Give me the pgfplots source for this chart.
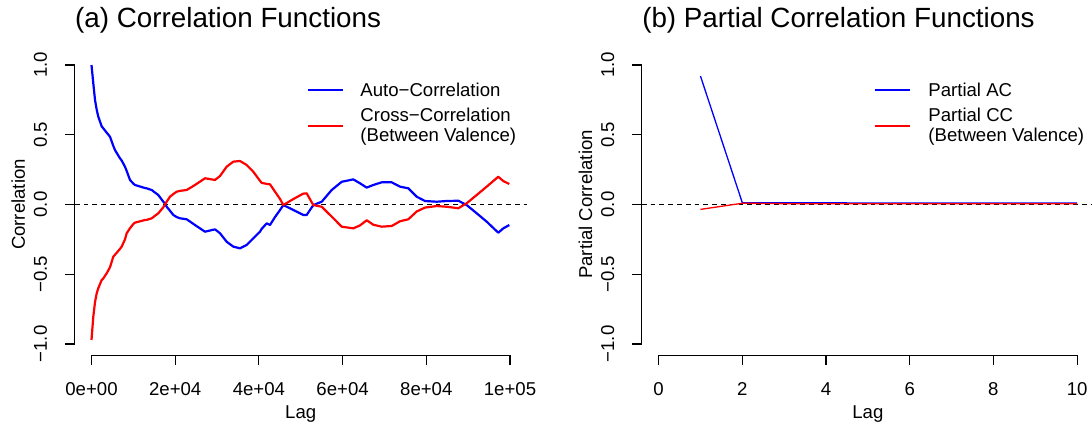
\documentclass[border=0pt]{standalone}
\usepackage{fontspec}
\setmainfont{Liberation Sans}
\usepackage{pgfplots}
\pgfplotsset{compat=1.18}

% Sample auto- and cross-correlation (between valence) by lag
\pgfplotstableread{
lag    ac      cc
0      1.000   -0.971
430    0.869   -0.804
840    0.749   -0.700
1240   0.680   -0.637
1620   0.630   -0.600
2440   0.560   -0.541
2820   0.546   -0.530
3630   0.515   -0.493
4420   0.486   -0.450
5210   0.420   -0.374
5620   0.390   -0.360
6810   0.331   -0.318
7220   0.315   -0.302
8000   0.271   -0.250
8410   0.240   -0.206
9200   0.176   -0.170
9990   0.150   -0.140
10390  0.140   -0.130
12780  0.118   -0.111
13190  0.116   -0.110
14380  0.104   -0.099
15960  0.068   -0.063
17160  0.020   -0.020
17560  0.005    0.001
17960 -0.016    0.020
18760 -0.045    0.056
19550 -0.075    0.075
20360 -0.090    0.092
21150 -0.099    0.098
22750 -0.106    0.104
24730 -0.147    0.140
27120 -0.195    0.188
29510 -0.178    0.176
30700 -0.206    0.204
32300 -0.267    0.271
33880 -0.302    0.307
35480 -0.314    0.312
37080 -0.290    0.283
38660 -0.242    0.235
40260 -0.195    0.170
40660 -0.175    0.155
41860 -0.135    0.148
42650 -0.147    0.145
43850 -0.090    0.092
45040 -0.040    0.040
45830 -0.004   -0.004
48220 -0.039    0.039
50610 -0.075    0.078
51420 -0.075    0.080
53000 -0.004   -0.004
55010  0.020   -0.016
57400  0.104   -0.087
59790  0.163   -0.159
62560  0.180   -0.171
64160  0.152   -0.150
65760  0.121   -0.113
67340  0.140   -0.145
69340  0.159   -0.159
71730  0.159   -0.154
73720  0.128   -0.120
75700  0.116   -0.106
77710  0.056   -0.050
79690  0.025   -0.022
82480  0.020   -0.011
84870  0.025   -0.016
87650  0.027   -0.027
89650 -0.004    0.009
92040 -0.063    0.068
94430 -0.123    0.128
97200 -0.202    0.199
98400 -0.171    0.168
99830 -0.147    0.147
}\corrtable

% Partial auto- and cross-correlation by lag
\pgfplotstableread{
lag  pac     pcc
1    0.921  -0.035
2    0.013   0.009
3    0.012   0.006
4    0.012   0.006
5    0.011   0.005
6    0.011   0.005
7    0.011   0.005
8    0.010   0.005
9    0.010   0.005
10   0.010   0.005
}\partialtable

\definecolor{rblue}{RGB}{0,0,255}
\definecolor{rred}{RGB}{255,0,0}

\newcommand{\basefont}{\fontsize{9.3pt}{11pt}\selectfont}
\newcommand{\titlefont}{\fontsize{13.9pt}{16pt}\selectfont}

\pgfplotsset{
  rpanel/.style={
    scale only axis, width=225.99pt, height=150.66pt,
    ymin=-1.08, ymax=1.08, clip=false,
    axis line style={draw=none},
    tick align=outside, tick pos=left,
    major tick length=5pt,
    tick style={black, line width=0.55pt},
    ytick={-1,-0.5,0,0.5,1},
    yticklabels={−1.0,−0.5,0.0,0.5,1.0},
    /pgf/number format/assume math mode=true,
    ticklabel style={font=\basefont},
    xticklabel style={anchor=base},
    yticklabel style={rotate=90, anchor=base},
    xticklabel shift=15pt,
    yticklabel shift=8.9pt,
  },
}

\begin{document}
\begin{tikzpicture}
% (a) correlation functions
\begin{axis}[rpanel,
  at={(37.38pt,-177.58pt)}, anchor=south west,
  xmin=-4000, xmax=104000,
  xtick={0,20000,40000,60000,80000,100000},
  xticklabels={0e+00,2e+04,4e+04,6e+04,8e+04,1e+05},
  scaled x ticks=false,
]
  \addplot[black, line width=0.55pt, dash pattern=on 2.4pt off 2pt] coordinates {(-4000,0) (104000,0)};
  \addplot[rblue, line width=1.1pt, line join=round] table[x=lag, y=ac] {\corrtable};
  \addplot[rred, line width=1.1pt, line join=round] table[x=lag, y=cc] {\corrtable};
  \draw[black, line width=0.55pt] (0,-1.08) -- (100000,-1.08);
  \draw[black, line width=0.55pt] (-4000,-1) -- (-4000,1);
\end{axis}

% (b) partial correlation functions
\begin{axis}[rpanel,
  at={(320.93pt,-177.58pt)}, anchor=south west,
  xmin=-0.4, xmax=10.4,
  xtick={0,2,4,6,8,10},
  xticklabels={0,2,4,6,8,10},
]
  \addplot[black, line width=0.55pt, dash pattern=on 2.4pt off 2pt] coordinates {(-0.4,0) (10.4,0)};
  \addplot[rblue, line width=0.65pt] table[x=lag, y=pac] {\partialtable};
  \addplot[rred, line width=0.65pt] table[x=lag, y=pcc] {\partialtable};
  \draw[black, line width=0.55pt] (0,-1.08) -- (10,-1.08);
  \draw[black, line width=0.55pt] (-0.4,-1) -- (-0.4,1);
\end{axis}

\begin{scope}[x=0.5pt, y=-0.5pt]
  % titles
  \node[anchor=base west, inner sep=0pt, font=\titlefont] at (74.76,27) {(a) Correlation Functions};
  \node[anchor=base west, inner sep=0pt, font=\titlefont] at (641.86,27) {(b) Partial Correlation Functions};
  % axis titles
  \node[anchor=base, inner sep=0pt, font=\basefont] at (300.75,418) {Lag};
  \node[anchor=base, inner sep=0pt, font=\basefont] at (867.85,418) {Lag};
  \node[anchor=base, inner sep=0pt, rotate=90, font=\basefont] at (25,204.5) {Correlation};
  \node[anchor=base, inner sep=0pt, rotate=90, font=\basefont] at (592,204.5) {Partial Correlation};
  % legend (a)
  \draw[rblue, line width=0.7pt] (308.3,90) -- (342.7,90);
  \draw[rred, line width=0.7pt] (308.3,126) -- (342.7,126);
  \node[anchor=base west, inner sep=0pt, font=\basefont] at (360,96.7) {Auto−Correlation};
  \node[anchor=base west, inner sep=0pt, font=\basefont] at (360,121.7) {Cross−Correlation};
  \node[anchor=base west, inner sep=0pt, font=\basefont] at (360,141.7) {(Between Valence)};
  % legend (b)
  \draw[rblue, line width=0.7pt] (874.7,90) -- (909.7,90);
  \draw[rred, line width=0.7pt] (874.7,126) -- (909.7,126);
  \node[anchor=base west, inner sep=0pt, font=\basefont] at (928,96.7) {Partial AC};
  \node[anchor=base west, inner sep=0pt, font=\basefont] at (928,121.7) {Partial CC};
  \node[anchor=base west, inner sep=0pt, font=\basefont] at (928,141.7) {(Between Valence)};
\end{scope}

\pgfresetboundingbox
\path[use as bounding box] (0pt,-214pt) rectangle (546pt,0pt);
\end{tikzpicture}
\end{document}
